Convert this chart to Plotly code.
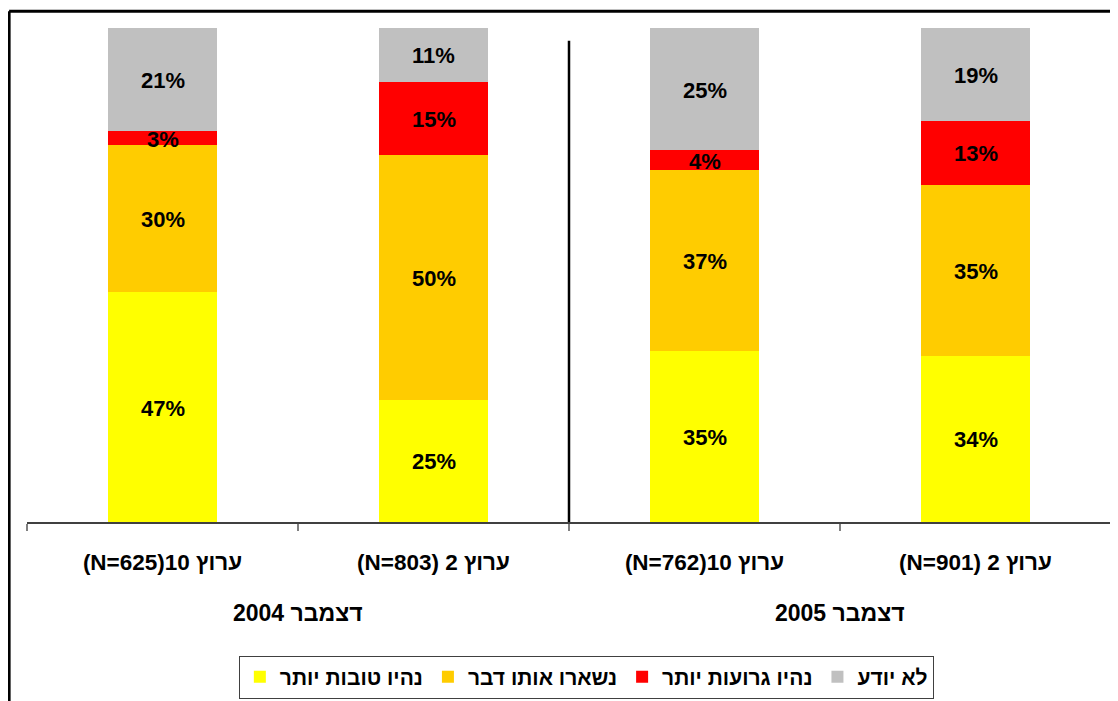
import plotly.graph_objects as go
import numpy as np

# categories (left to right as in the picture)
channels = ["(N=625)10 ערוץ", "(N=803) 2 ערוץ", "(N=762)10 ערוץ", "(N=901) 2 ערוץ"]
periods = ["2004 דצמבר", "2005 דצמבר"]

# series, stacked bottom to top
series_names = ["נהיו טובות יותר", "נשארו אותו דבר", "נהיו גרועות יותר", "לא יודע"]
better = [47, 25, 35, 34]
same = [30, 50, 37, 35]
worse = [3, 15, 4, 13]
dont_know = [21, 11, 25, 19]

colors = ["#FFFF00", "#FFCC00", "#FF0000", "#C0C0C0"]
series = [better, same, worse, dont_know]

FONT = "Arial, Liberation Sans, sans-serif"

fig = go.Figure()
for name, vals, col in zip(series_names, series, colors):
    fig.add_trace(go.Bar(
        x=channels,
        y=vals,
        name=name,
        marker={"color": col, "line": {"width": 0}},
        hoverinfo="skip"))

# percent labels in the middle of each segment
base = np.zeros(len(channels))
annotations = []
for vals in series:
    vals = np.array(vals, dtype=float)
    mids = base + vals / 2
    for i, c in enumerate(channels):
        annotations.append(dict(
            x=c, y=mids[i], xref="x", yref="y", yshift=-1,
            text=f"{int(vals[i])}%", showarrow=False,
            font={"family": FONT, "size": 22, "color": "black", "weight": "bold"}))
    base = base + vals

# period labels under each pair of bars
for k, p in enumerate(periods):
    annotations.append(dict(
        x=2 * k + 0.5, y=-0.185, xref="x", yref="paper",
        text=p, showarrow=False, yanchor="middle",
        font={"family": FONT, "size": 23, "color": "black", "weight": "bold"}))

fig.update_layout(
    width=1118, height=701,
    margin={"l": 19, "r": 15, "t": 20, "b": 186},
    paper_bgcolor="white", plot_bgcolor="white",
    barmode="stack", bargap=0.6,
    showlegend=True,
    legend={"orientation": "h", "x": 0.516, "xanchor": "center",
            "y": -0.268, "yanchor": "top",
            "bordercolor": "#404040", "borderwidth": 1, "bgcolor": "white",
            "font": {"family": FONT, "size": 21, "color": "black", "weight": "bold"},
            "traceorder": "normal"},
    annotations=annotations,
    xaxis={"showgrid": False, "showline": True, "linecolor": "#404040", "linewidth": 2,
           "ticks": "outside", "tickson": "boundaries", "ticklen": 7, "tickcolor": "#808080",
           "tickwidth": 2, "ticklabelstandoff": 19,
           "tickfont": {"family": FONT, "size": 22.5, "color": "black", "weight": "bold"},
           "range": [-0.5, 3.5]},
    yaxis={"showgrid": False, "showline": False, "showticklabels": False,
           "zeroline": False, "range": [0, 101]},
    shapes=[
        # divider between the two periods
        dict(type="line", xref="x", yref="paper", x0=1.5, x1=1.5, y0=0, y1=0.974,
             line={"color": "black", "width": 2.5}),
        # outer frame (left and top edges)
        dict(type="line", xref="paper", yref="paper", x0=-0.0165, x1=-0.0165, y0=-0.4, y1=1.034,
             line={"color": "black", "width": 3}),
        dict(type="line", xref="paper", yref="paper", x0=-0.0165, x1=1.03, y0=1.034, y1=1.034,
             line={"color": "black", "width": 3}),
    ],
)

fig.write_html("out.html")
